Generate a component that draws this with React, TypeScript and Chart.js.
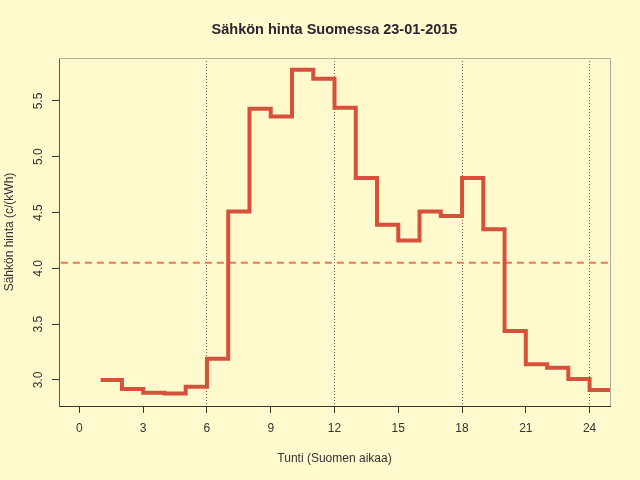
import { useEffect, useRef } from "react";
import { Chart, registerables } from "chart.js";

Chart.register(...registerables);

// tunnit 1..24 (viimeinen arvo toistetaan tunnille 25, jotta porras piirtyy loppuun)
const hours = [1, 2, 3, 4, 5, 6, 7, 8, 9, 10, 11, 12, 13, 14, 15, 16, 17, 18, 19, 20, 21, 22, 23, 24, 25];
const prices = [
  3.0, 2.92, 2.885, 2.88, 2.94, 3.19, 4.51, 5.43, 5.36, 5.78, 5.7, 5.44,
  4.81, 4.39, 4.25, 4.51, 4.47, 4.81, 4.35, 3.44, 3.14, 3.11, 3.01, 2.91, 2.91,
];
const meanPrice = 4.05;
const xTicks = [0, 3, 6, 9, 12, 15, 18, 21, 24];
const yTicks = [3.0, 3.5, 4.0, 4.5, 5.0, 5.5];
const gridHours = [6, 12, 18, 24];
const titleText = "Sähkön hinta Suomessa 23-01-2015";

const BG = "#FFFACD";
const FONT = "'Liberation Sans', Arial, sans-serif";

const bgPlugin = {
  id: "bg",
  beforeDraw(chart: any) {
    const { ctx, width, height } = chart;
    ctx.save();
    ctx.fillStyle = BG;
    ctx.fillRect(0, 0, width, height);
    ctx.restore();
  },
  beforeDatasetsDraw(chart: any) {
    const { ctx, chartArea } = chart;
    ctx.save();
    ctx.strokeStyle = "#b5ae98";
    ctx.lineWidth = 1;
    ctx.beginPath();
    ctx.moveTo(chartArea.left, chartArea.top + 0.5);
    ctx.lineTo(chartArea.right + 0.5, chartArea.top + 0.5);
    ctx.lineTo(chartArea.right + 0.5, chartArea.bottom);
    ctx.stroke();
    ctx.restore();
  },
  afterDraw(chart: any) {
    const { ctx, chartArea } = chart;
    const y = chart.scales.y;
    ctx.save();
    // otsikko keskitetään piirtoalueen yläpuolelle kuten R:ssä
    ctx.fillStyle = "#2b2630";
    ctx.font = `bold 14.5px ${FONT}`;
    ctx.textAlign = "center";
    ctx.textBaseline = "middle";
    ctx.fillText(titleText, (chartArea.left + chartArea.right) / 2, 30);

    ctx.fillStyle = "#333";
    ctx.font = `12px ${FONT}`;
    yTicks.forEach((v) => {
      ctx.save();
      ctx.translate(39, y.getPixelForValue(v));
      ctx.rotate(-Math.PI / 2);
      ctx.fillText(v.toFixed(1), 0, 0);
      ctx.restore();
    });
    ctx.restore();
  },
};

export default function App() {
  const canvasRef = useRef<HTMLCanvasElement | null>(null);

  useEffect(() => {
    document.body.style.margin = "0";
    if (!canvasRef.current) return;

    const chart = new Chart(canvasRef.current, {
      type: "line",
      data: {
        datasets: [
          {
            data: hours.map((h, i) => ({ x: h, y: prices[i] })),
            borderColor: "#D7503B",
            borderWidth: 4,
            stepped: true,
            pointRadius: 0,
            fill: false,
            order: 1,
          },
          {
            data: [
              { x: -2, y: meanPrice },
              { x: 27, y: meanPrice },
            ],
            borderColor: "#E27A5E",
            borderWidth: 2,
            borderDash: [7, 5],
            pointRadius: 0,
            fill: false,
            order: 2,
          },
        ],
      },
      options: {
        animation: false,
        responsive: true,
        maintainAspectRatio: false,
        layout: { padding: { left: 0, right: 30, top: 58, bottom: 0 } },
        plugins: {
          legend: { display: false },
          tooltip: { enabled: false },
          title: { display: false },
        },
        scales: {
          x: {
            type: "linear",
            min: -0.96,
            max: 24.96,
            afterBuildTicks: (scale: any) => {
              scale.ticks = xTicks.map((v) => ({ value: v }));
            },
            afterFit: (scale: any) => {
              scale.height = 74;
            },
            grid: {
              color: (c: any) =>
                gridHours.includes(c.tick?.value) ? "#666" : "rgba(0,0,0,0)",
              lineWidth: 1,
              drawTicks: true,
              tickLength: 7,
              tickColor: "#333",
              tickBorderDash: [],
            },
            border: { display: true, color: "#333", width: 1, dash: [1, 2] },
            ticks: {
              color: "#333",
              font: { family: FONT, size: 12 },
              padding: 8,
              maxRotation: 0,
            },
            title: {
              display: true,
              text: "Tunti (Suomen aikaa)",
              color: "#333",
              font: { family: FONT, size: 12 },
              padding: { top: 0, bottom: 13.8 },
            },
          },
          y: {
            type: "linear",
            min: 2.767,
            max: 5.885,
            afterBuildTicks: (scale: any) => {
              scale.ticks = yTicks.map((v) => ({ value: v }));
            },
            afterFit: (scale: any) => {
              scale.width = 59;
            },
            grid: {
              drawOnChartArea: false,
              drawTicks: true,
              tickLength: 7,
              tickColor: "#333",
            },
            border: { display: true, color: "#555", width: 1 },
            ticks: { display: false },
            title: {
              display: true,
              text: "Sähkön hinta (c/(kWh)",
              color: "#333",
              font: { family: FONT, size: 12 },
              padding: { top: 2.5, bottom: 0 },
            },
          },
        },
      },
      plugins: [bgPlugin],
    } as any);

    return () => {
      chart.destroy();
    };
  }, []);

  return (
    <div style={{ width: 640, height: 480, position: "relative", background: BG }}>
      <canvas ref={canvasRef}></canvas>
    </div>
  );
}
